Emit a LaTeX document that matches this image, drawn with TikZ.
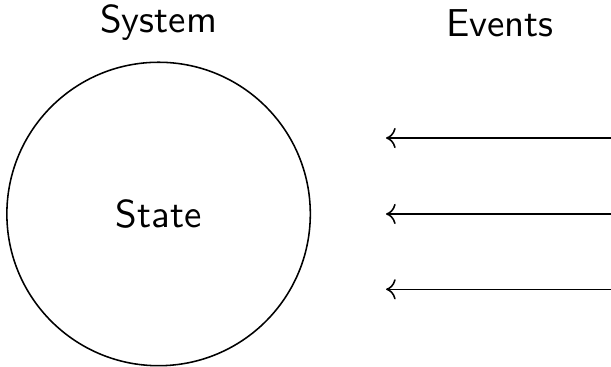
\documentclass[tikz,border=0pt]{standalone}
\usetikzlibrary{arrows.meta, positioning}

\begin{document}
\begin{tikzpicture}[font=\sffamily,
  statenode/.style={draw, circle, minimum size=2.74cm, inner sep=0pt}]

  \useasboundingbox (-1.432,-1.373) rectangle (4.085,1.932);

  % --- system with its state ---
  \node[statenode] (state) at (0,0) {State};
  \node (system) at (0,1.725) {System};

  % --- incoming events ---
  \node (events) at (3.083,1.725) {Events};
  \foreach \y [count=\i] in {0.686, 0, -0.68} {
    \coordinate (ev\i-from) at (4.085,\y);
    \coordinate (ev\i-to) at (2.054,\y);
    \draw[->] (ev\i-from) -- (ev\i-to);
  }

\end{tikzpicture}
\end{document}
